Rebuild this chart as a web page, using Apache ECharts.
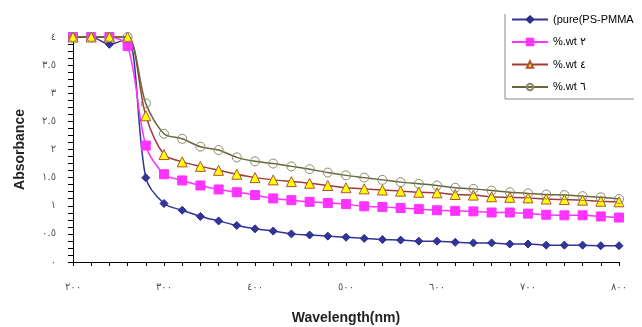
<!DOCTYPE html>
<html><head><meta charset="utf-8">
<script src="https://cdn.jsdelivr.net/npm/echarts@6/dist/echarts.min.js"></script>
<style>html,body{margin:0;padding:0;background:#fff}#c{width:642px;height:327px}</style>
</head><body><div id="c"></div>
<script>
const wavelengths = [200,220,240,260,280,300,320,340,360,380,400,420,440,460,480,500,520,540,560,580,600,620,640,660,680,700,720,740,760,780,800];
const pure = [4,4,3.87,3.97,1.5,1.04,0.92,0.81,0.73,0.65,0.59,0.55,0.5,0.48,0.46,0.44,0.42,0.4,0.39,0.37,0.37,0.35,0.34,0.34,0.32,0.32,0.3,0.3,0.3,0.29,0.29];
const wt2 = [4,4,4,3.84,2.07,1.56,1.45,1.36,1.29,1.24,1.19,1.13,1.1,1.07,1.05,1.03,0.99,0.98,0.96,0.94,0.92,0.91,0.9,0.88,0.88,0.86,0.84,0.83,0.83,0.81,0.79];
const wt4 = [4,4,4,4,2.6,1.91,1.78,1.7,1.63,1.56,1.5,1.46,1.43,1.4,1.36,1.32,1.3,1.28,1.26,1.24,1.23,1.2,1.19,1.16,1.15,1.14,1.12,1.11,1.1,1.08,1.07];
const wt6 = [4,4,4,4,2.82,2.28,2.19,2.05,1.99,1.86,1.79,1.75,1.7,1.65,1.59,1.54,1.5,1.46,1.42,1.39,1.36,1.32,1.3,1.27,1.24,1.22,1.2,1.19,1.17,1.15,1.12];
const seriesNames = ['(pure(PS-PMMA', '%.wt ٢', '%.wt ٤', '%.wt ٦'];

const ar = s => String(s).replace(/[0-9]/g, d => '٠١٢٣٤٥٦٧٨٩'[d]);
const pairs = ys => wavelengths.map((x, i) => [x, ys[i]]);

const chart = echarts.init(document.getElementById('c'));
const mk = (name, ys, symbol, size, lineColor, fill, border) => ({
  name, type: 'line', data: pairs(ys), smooth: 0.3, symbol, symbolSize: size,
  showSymbol: true, showAllSymbol: true, clip: false,
  lineStyle: { color: lineColor, width: 1.5, type: 'solid' },
  itemStyle: { color: fill, borderColor: border, borderWidth: 1 },
  emphasis: { disabled: true }
});
chart.setOption({
  animation: false,
  grid: { left: 73, right: 23, top: 37, bottom: 65, containLabel: false, outerBoundsMode: 'none' },
  legend: {
    orient: 'vertical', left: 506, top: 9, itemWidth: 36, itemHeight: 8, itemGap: 11.5,
    textStyle: { fontFamily: 'Arial, DejaVu Sans', fontSize: 11, color: '#000' },
    data: seriesNames
  },
  graphic: [
    { type: 'polyline', silent: true, shape: { points: [[505, 14], [505, 99], [634, 99]] }, style: { stroke: '#888', lineWidth: 1, fill: null } }
  ],
  xAxis: {
    type: 'value', min: 200, max: 800, interval: 100,
    name: 'Wavelength(nm)', nameLocation: 'middle', nameGap: 49,
    nameTextStyle: { fontFamily: 'Arial', fontWeight: 'bold', fontSize: 14, color: '#222' },
    axisLine: { lineStyle: { color: '#000' } },
    axisTick: { length: 4, lineStyle: { color: '#000' } },
    minorTick: { show: true, splitNumber: 5, length: 4, lineStyle: { color: '#000' } },
    splitLine: { show: false },
    axisLabel: { formatter: v => ar(v), fontFamily: 'DejaVu Sans', fontSize: 10, color: '#555', margin: 20 }
  },
  yAxis: {
    type: 'value', min: 0, max: 4, interval: 0.5,
    name: 'Absorbance', nameLocation: 'middle', nameGap: 46,
    nameTextStyle: { fontFamily: 'Arial', fontWeight: 'bold', fontSize: 14, color: '#222' },
    axisLine: { show: true, lineStyle: { color: '#000' } },
    axisTick: { show: true, length: 5, lineStyle: { color: '#000' } },
    minorTick: { show: true, splitNumber: 4, length: 5, lineStyle: { color: '#000' } },
    splitLine: { show: false },
    axisLabel: { formatter: v => ar(v), fontFamily: 'DejaVu Sans', fontSize: 10, color: '#555', margin: 17 }
  },
  series: [
    mk(seriesNames[0], pure, 'diamond', 8, '#33339a', '#33339a', '#2a2a8a'),
    mk(seriesNames[1], wt2, 'rect', 9, '#ff33ff', '#ff33ff', '#ff33ff'),
    mk(seriesNames[2], wt4, 'triangle', 10, '#a33a3a', '#ffff00', '#b0503a'),
    mk(seriesNames[3], wt6, 'circle', 9, '#66663a', 'rgba(255,255,255,0)', '#8a8a6a')
  ]
});
</script></body></html>
